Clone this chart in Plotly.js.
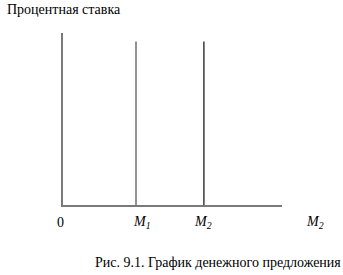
<!DOCTYPE html>
<html>
<head>
<meta charset="utf-8">
<script src="https://cdn.plot.ly/plotly-3.0.1.min.js"></script>
<style>html,body{margin:0;padding:0;background:#fff;}#chart{width:343px;height:275px;}</style>
</head>
<body>
<div id="chart"></div>
<script>
// Schematic money supply values (relative units)
var supplyNames = ['M1', 'M2'];
var supplyValues = [1.0, 1.93];
var rateTop = [0.95, 0.95];
var lineColors = ['#6f6f6f', '#3a3a3a'];
var tickLabels = ['0', '<i>M</i><sub><i>1</i></sub>', '<i>M</i><sub><i>2</i></sub>', '<i>M</i><sub><i>2</i></sub>'];
var tickValues = [-0.04, 1.08, 1.92, 3.45];
var yTitle = 'Процентная ставка';
var caption = 'Рис. 9.1. График денежного предложения';

var xMax = 3;
var fam = 'Liberation Serif';

var traces = supplyValues.map(function (v, i) {
  return {
    type: 'scatter', mode: 'lines',
    x: [v, v], y: [0, rateTop[i]],
    line: {color: lineColors[i], width: 1.5},
    hoverinfo: 'skip', showlegend: false
  };
});

var annotations = tickLabels.map(function (t, i) {
  return {
    text: t, x: tickValues[i] / xMax, xref: 'paper', y: -0.099, yref: 'paper',
    xanchor: 'center', yanchor: 'middle', showarrow: false,
    font: {family: fam, size: 14, color: '#000'}
  };
});
annotations.push({
  text: yTitle, x: -0.265, xref: 'paper', y: 1.135, yref: 'paper',
  xanchor: 'left', yanchor: 'middle', showarrow: false,
  font: {family: fam, size: 14, color: '#000'}
});
annotations.push({
  text: caption, x: 0.137, xref: 'paper', y: -0.337, yref: 'paper',
  xanchor: 'left', yanchor: 'middle', showarrow: false,
  font: {family: fam, size: 14, color: '#000'}
});

var layout = {
  width: 343, height: 275,
  margin: {l: 63, r: 61, t: 33, b: 70, pad: 0},
  paper_bgcolor: '#fff', plot_bgcolor: '#fff',
  font: {family: fam, size: 14, color: '#000'},
  xaxis: {range: [0, xMax], showgrid: false, zeroline: false, showticklabels: false,
          ticks: '', showline: true, linecolor: '#7a7a7a', linewidth: 2, fixedrange: true},
  yaxis: {range: [0, 1], showgrid: false, zeroline: false, showticklabels: false,
          ticks: '', showline: true, linecolor: '#7a7a7a', linewidth: 2, fixedrange: true},
  annotations: annotations,
  showlegend: false
};

Plotly.newPlot('chart', traces, layout, {displayModeBar: false, staticPlot: true});
</script>
</body>
</html>
